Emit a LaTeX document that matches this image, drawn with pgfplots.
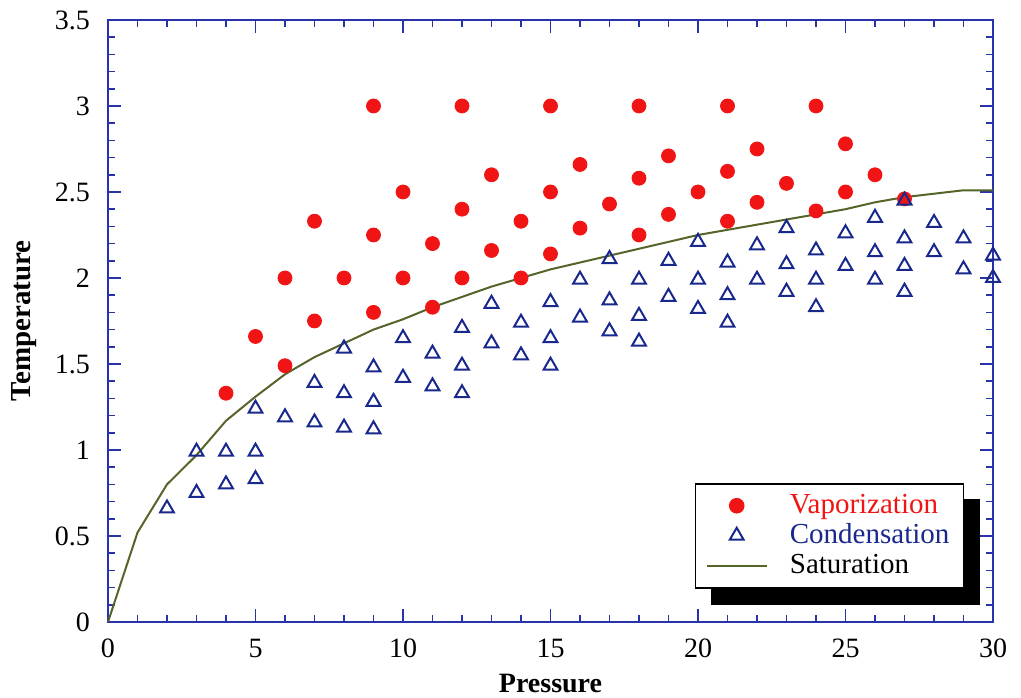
\documentclass[border=0pt]{standalone}
\usepackage{fontspec}
\setmainfont{Liberation Serif}
\usepackage{pgfplots}
\pgfplotsset{compat=1.18}

\definecolor{axblue}{RGB}{40,50,170}
\definecolor{dotred}{RGB}{240,20,20}
\definecolor{triblue}{RGB}{25,40,140}
\definecolor{satgreen}{RGB}{85,100,40}

\begin{document}
\begin{tikzpicture}
\begin{axis}[
    name=ax,
    scale only axis,
    width=442.5pt, height=301pt,
    xmin=0, xmax=30, ymin=0, ymax=3.5,
    xtick={0,5,...,30},
    ytick={0,0.5,...,3.5},
    minor x tick num=4,
    minor y tick num=4,
    tick align=inside,
    axis line style={axblue, line width=0.8pt},
    every tick/.style={axblue, line width=0.8pt},
    major tick length=6.5pt,
    minor tick length=3.5pt,
    /pgf/number format/assume math mode=true,
    ticklabel style={font=\fontsize{14}{16}\selectfont, black},
    yticklabel style={/pgf/number format/.cd, fixed, precision=1, /tikz/.cd, xshift=-5.5pt},
    xticklabel style={yshift=-5pt},
    xlabel={\textbf{Pressure}},
    ylabel={\textbf{Temperature}},
    xlabel style={font=\fontsize{14}{16}\selectfont,
        at={(axis description cs:0.5,-0.103)}, anchor=center},
    ylabel style={font=\fontsize{14.5}{16}\selectfont,
        at={(axis description cs:-0.095,0.5)}, anchor=center},
    clip=false,
    legend image code/.code={
        \draw[mark repeat=2,mark phase=2,#1]
        plot coordinates {(0cm,0cm) (0.53cm,0cm) (1.06cm,0cm)};},
    legend cell align=left,
    legend style={
        name=leg,
        at={(rel axis cs:0.663,0.231)}, anchor=north west,
        draw=black, line width=0.8pt, fill=white,
        font=\fontsize{14.5}{16}\selectfont,
        inner xsep=5pt, inner ysep=3.5pt,
        row sep=0pt, column sep=9pt,
        nodes={text height=10.5pt, text depth=3pt, inner ysep=0.75pt},
    },
]
\addplot[only marks, mark=*, mark size=3.5pt, color=dotred] coordinates {
    (4,1.33)
    (5,1.66)
    (6,2.00) (6,1.49)
    (7,2.33) (7,1.75)
    (8,2.00)
    (9,3.00) (9,2.25) (9,1.80)
    (10,2.50) (10,2.00)
    (11,2.20) (11,1.83)
    (12,3.00) (12,2.40) (12,2.00)
    (13,2.60) (13,2.16)
    (14,2.33) (14,2.00)
    (15,3.00) (15,2.50) (15,2.14)
    (16,2.66) (16,2.29)
    (17,2.43)
    (18,3.00) (18,2.58) (18,2.25)
    (19,2.71) (19,2.37)
    (20,2.50)
    (21,3.00) (21,2.62) (21,2.33)
    (22,2.75) (22,2.44)
    (23,2.55)
    (24,3.00) (24,2.39)
    (25,2.78) (25,2.50)
    (26,2.60)
    (27,2.46)
};
\addlegendentry{\textcolor{dotred}{Vaporization}}
\addplot[only marks, mark=triangle, mark size=4pt, color=triblue,
    mark options={line width=1pt}] coordinates {
    (2,0.66)
    (3,0.99) (3,0.75)
    (4,0.99) (4,0.80)
    (5,1.24) (5,0.99) (5,0.83)
    (6,1.19)
    (7,1.39) (7,1.16)
    (8,1.59) (8,1.33) (8,1.13)
    (9,1.48) (9,1.28) (9,1.12)
    (10,1.65) (10,1.42)
    (11,1.56) (11,1.37)
    (12,1.71) (12,1.49) (12,1.33)
    (13,1.85) (13,1.62)
    (14,1.74) (14,1.55)
    (15,1.86) (15,1.65) (15,1.49)
    (16,1.99) (16,1.77)
    (17,2.11) (17,1.87) (17,1.69)
    (18,1.99) (18,1.78) (18,1.63)
    (19,2.10) (19,1.89)
    (20,2.21) (20,1.99) (20,1.82)
    (21,2.09) (21,1.90) (21,1.74)
    (22,2.19) (22,1.99)
    (23,2.29) (23,2.08) (23,1.92)
    (24,2.16) (24,1.99) (24,1.83)
    (25,2.26) (25,2.07)
    (26,2.35) (26,2.15) (26,1.99)
    (27,2.45) (27,2.23) (27,2.07) (27,1.92)
    (28,2.32) (28,2.15)
    (29,2.23) (29,2.05)
    (30,2.13) (30,2.00)
};
\addlegendentry{\textcolor{triblue}{Condensation}}
\addplot[no marks, color=satgreen, line width=1pt] coordinates {
    (0,0) (1,0.52) (2,0.80) (3,0.97) (4,1.17) (5,1.31) (6,1.44)
    (7,1.54) (8,1.62) (9,1.70) (10,1.76) (11,1.83) (12,1.89)
    (13,1.95) (14,2.00) (15,2.05) (16,2.09) (17,2.13) (18,2.17)
    (19,2.21) (20,2.25) (21,2.28) (22,2.31) (23,2.34) (24,2.37)
    (25,2.40) (26,2.44) (27,2.47) (28,2.49) (29,2.51) (30,2.51)
};
\addlegendentry{Saturation}
\end{axis}
% shadow of the legend box
\fill[black] ([shift={(8pt,-8pt)}]leg.south west) rectangle ([shift={(8pt,0pt)}]leg.south east);
\fill[black] ([shift={(0pt,-8pt)}]leg.south east) rectangle ([shift={(8pt,-8pt)}]leg.north east);
\pgfresetboundingbox
\path[use as bounding box] ([shift={(-54pt,-38pt)}]ax.south west)
    rectangle ([shift={(14pt,10pt)}]ax.north east);
\end{tikzpicture}
\end{document}
